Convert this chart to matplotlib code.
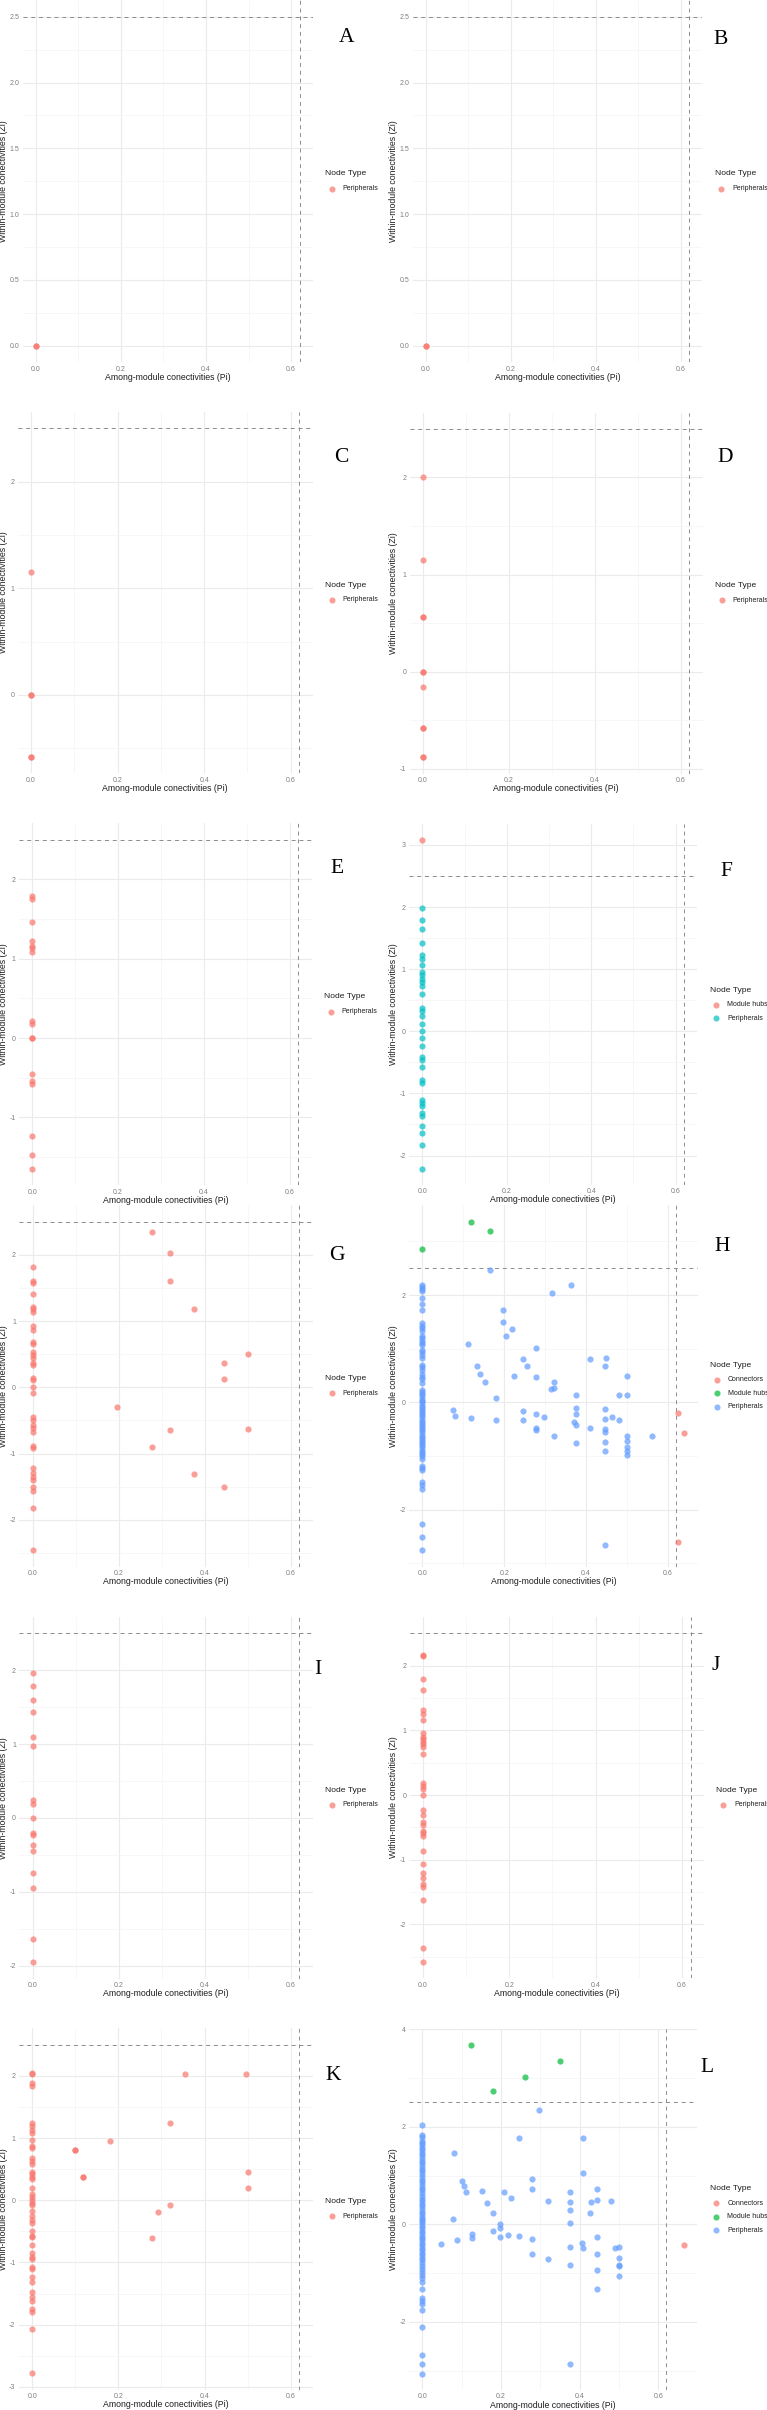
"""
Zi-Pi 模組角色散點圖 (A-L 共 12 個面板)
"""
import numpy as np
import matplotlib
matplotlib.use('Agg')
import matplotlib.pyplot as plt
from matplotlib.lines import Line2D
from matplotlib.ticker import MultipleLocator, FormatStrFormatter

plt.rcParams['font.family'] = ['Liberation Sans', 'DejaVu Sans']

W, HT = 767, 2410
P, HUB, CON = 'Peripherals', 'Module hubs', 'Connectors'
ROLE_ORDER = [CON, HUB, P]
HUE = {1: ['#F8766D'], 2: ['#F8766D', '#00BFC4'],
       3: ['#F8766D', '#00BA38', '#619CFF']}
PI_CUT, ZI_CUT = 0.62, 2.5

# ---- 資料 ----
a_zi = [0.0, 0.0]
b_zi = [0.0, 0.0]
c_zi = [1.15, 0.0, 0.0, -0.58, -0.58]
d_zi = [2.0, 1.15, 0.56, 0.56, 0.0, 0.0, -0.16, -0.58, -0.58, -0.88, -0.88]
e_zi = [1.79, 1.75, 1.46, 1.22, 1.16, 1.14, 1.09, 0.21, 0.18, 0.0, 0.0,
        -0.45, -0.54, -0.58, -1.23, -1.47, -1.65]
f_hub_zi = [3.08]
f_zi = [1.98, 1.79, 1.65, 1.43, 1.23, 1.16, 1.06, 0.96, 0.91, 0.85, 0.80,
        0.73, 0.60, 0.37, 0.32, 0.25, 0.11, 0.0, -0.11, -0.24, -0.41, -0.46,
        -0.57, -0.78, -0.83, -1.10, -1.16, -1.21, -1.32, -1.37, -1.52, -1.63,
        -1.83, -2.21]
g_col_zi = [1.82, 1.60, 1.57, 1.41, 1.22, 1.18, 1.14, 0.93, 0.86, 0.69, 0.66,
            0.54, 0.49, 0.45, 0.36, 0.34, 0.14, 0.11, 0.0, -0.09, -0.45, -0.49,
            -0.57, -0.62, -0.67, -0.89, -0.92, -1.22, -1.30, -1.35, -1.40,
            -1.50, -1.57, -1.83, -2.46]
g_pi = [0.278, 0.32, 0.32, 0.375, 0.5, 0.444, 0.444, 0.197, 0.32, 0.5, 0.278,
        0.375, 0.444]
g_zi = [2.35, 2.03, 1.60, 1.19, 0.50, 0.36, 0.12, -0.29, -0.65, -0.63, -0.90,
        -1.31, -1.51]
h_hub_pi = [0.12, 0.165, 0.0]
h_hub_zi = [3.37, 3.19, 2.86]
h_con_pi = [0.624, 0.64, 0.624]
h_con_zi = [-0.205, -0.57, -2.61]
h_col_zi = [2.19, 2.15, 2.11, 2.07, 1.94, 1.84, 1.72, 1.47, 1.42, 1.38, 1.33,
            1.24, 1.20, 1.15, 1.11, 1.06, 0.98, 0.93, 0.88, 0.83, 0.70, 0.65,
            0.60, 0.53, 0.48, 0.43, 0.36, 0.23, 0.19, 0.15, 0.11, 0.07, 0.03,
            0.0, -0.04, -0.08, -0.12, -0.16, -0.20, -0.24, -0.28, -0.32, -0.36,
            -0.40, -0.44, -0.48, -0.52, -0.56, -0.60, -0.64, -0.68, -0.72,
            -0.76, -0.80, -0.84, -0.88, -0.92, -0.96, -1.00, -1.05, -1.18,
            -1.22, -1.26, -1.48, -1.54, -1.61, -2.26, -2.51, -2.76]
h_pi = [0.165, 0.362, 0.317, 0.198, 0.198, 0.219, 0.204, 0.111, 0.278, 0.245,
        0.409, 0.449, 0.256, 0.133, 0.445, 0.142, 0.225, 0.278, 0.501, 0.154,
        0.321, 0.315, 0.321, 0.375, 0.48, 0.501, 0.18, 0.076, 0.08, 0.12,
        0.18, 0.245, 0.245, 0.278, 0.298, 0.278, 0.278, 0.321, 0.375, 0.375,
        0.371, 0.375, 0.375, 0.409, 0.445, 0.445, 0.464, 0.48, 0.445, 0.445,
        0.445, 0.445, 0.501, 0.501, 0.501, 0.501, 0.501, 0.561, 0.445]
h_zi = [2.46, 2.18, 2.03, 1.73, 1.50, 1.36, 1.24, 1.09, 1.01, 0.80, 0.80,
        0.82, 0.67, 0.67, 0.67, 0.52, 0.49, 0.47, 0.50, 0.38, 0.38, 0.24,
        0.26, 0.13, 0.13, 0.13, 0.09, -0.14, -0.25, -0.30, -0.32, -0.16,
        -0.33, -0.21, -0.27, -0.47, -0.52, -0.62, -0.11, -0.21, -0.37, -0.42,
        -0.76, -0.47, -0.12, -0.31, -0.27, -0.32, -0.49, -0.55, -0.74, -0.90,
        -0.62, -0.72, -0.83, -0.90, -0.98, -0.62, -2.66]
i_zi = [1.96, 1.79, 1.59, 1.44, 1.10, 0.98, 0.24, 0.19, 0.0, -0.20, -0.23,
        -0.36, -0.45, -0.74, -0.95, -1.64, -1.95]
j_zi = [2.16, 2.15, 1.79, 1.62, 1.31, 1.26, 1.16, 0.96, 0.90, 0.86, 0.82,
        0.79, 0.75, 0.64, 0.18, 0.14, 0.10, 0.0, -0.23, -0.31, -0.41, -0.46,
        -0.55, -0.59, -0.64, -0.86, -1.07, -1.21, -1.29, -1.37, -1.43, -1.62,
        -2.37, -2.58]
k_col_zi = [2.05, 2.03, 1.88, 1.83, 1.25, 1.20, 1.13, 1.08, 0.97, 0.87, 0.84,
            0.68, 0.63, 0.58, 0.46, 0.42, 0.38, 0.34, 0.19, 0.10, 0.05, 0.0,
            -0.05, -0.08, -0.18, -0.26, -0.31, -0.36, -0.49, -0.57, -0.59,
            -0.72, -0.85, -0.91, -0.95, -1.07, -1.11, -1.23, -1.32, -1.47,
            -1.56, -1.62, -1.75, -1.79, -2.07, -2.78]
k_pi = [0.355, 0.496, 0.32, 0.18, 0.10, 0.10, 0.118, 0.118, 0.5, 0.5, 0.32,
        0.292, 0.278]
k_zi = [2.03, 2.03, 1.25, 0.95, 0.81, 0.81, 0.38, 0.38, 0.45, 0.19, -0.07,
        -0.19, -0.60]
l_hub_pi = [0.125, 0.351, 0.26, 0.18]
l_hub_zi = [3.67, 3.36, 3.02, 2.74]
l_con_pi = [0.666]
l_con_zi = [-0.42]
l_col_zi = [2.03, 1.83, 1.80, 1.70, 1.66, 1.62, 1.56, 1.52, 1.47, 1.42, 1.37,
            1.30, 1.25, 1.20, 1.14, 1.09, 1.04, 0.98, 0.92, 0.86, 0.80, 0.75,
            0.70, 0.64, 0.58, 0.53, 0.48, 0.42, 0.37, 0.32, 0.26, 0.21, 0.16,
            0.11, 0.06, 0.02, -0.03, -0.08, -0.13, -0.18, -0.23, -0.28, -0.33,
            -0.38, -0.43, -0.48, -0.53, -0.58, -0.63, -0.68, -0.73, -0.80,
            -0.86, -0.92, -0.98, -1.04, -1.10, -1.18, -1.32, -1.51, -1.58,
            -1.64, -1.76, -2.10, -2.67, -2.87, -3.06]
l_pi = [0.297, 0.245, 0.408, 0.08, 0.408, 0.10, 0.105, 0.111, 0.153, 0.207,
        0.278, 0.278, 0.375, 0.445, 0.164, 0.226, 0.319, 0.375, 0.43, 0.445,
        0.48, 0.375, 0.426, 0.18, 0.077, 0.375, 0.197, 0.197, 0.18, 0.127,
        0.127, 0.197, 0.219, 0.245, 0.278, 0.089, 0.047, 0.406, 0.445, 0.375,
        0.408, 0.49, 0.5, 0.278, 0.445, 0.5, 0.319, 0.375, 0.5, 0.5, 0.445,
        0.5, 0.445, 0.375]
l_zi = [2.35, 1.77, 1.77, 1.46, 1.05, 0.89, 0.78, 0.66, 0.68, 0.66, 0.94,
        0.72, 0.67, 0.72, 0.44, 0.54, 0.48, 0.46, 0.45, 0.49, 0.48, 0.30,
        0.23, 0.23, 0.12, 0.03, 0.01, -0.08, -0.14, -0.20, -0.27, -0.26,
        -0.22, -0.24, -0.31, -0.33, -0.40, -0.38, -0.26, -0.47, -0.49, -0.49,
        -0.47, -0.60, -0.60, -0.68, -0.72, -0.83, -0.83, -0.86, -0.94, -1.06,
        -1.32, -2.87]


def column(zi):
    return [0.0] * len(zi), list(zi), [P] * len(zi)


def combine(*groups):
    pi, zi, role = [], [], []
    for gp, gz, gr in groups:
        pi += list(gp)
        zi += list(gz)
        role += [gr] * len(gp) if isinstance(gr, str) else list(gr)
    return np.array(pi), np.array(zi), np.array(role)


# 面板: (字母, 資料, y 主刻度間距, y 格式, 座標框 left/top/right/bottom, 字母位置)
panels = [
    ('A', combine(column(a_zi)), 0.5, '%.1f', (22.8, 0.3, 312.7, 362.2), (347, 37)),
    ('B', combine(column(b_zi)), 0.5, '%.1f', (412.5, 0.3, 702.4, 362.2), (721, 40)),
    ('C', combine(column(c_zi)), 1, '%d', (17.6, 411.8, 312.8, 773.3), (341, 457)),
    ('D', combine(column(d_zi)), 1, '%d', (409.7, 412.5, 702.6, 773.6), (725, 457)),
    ('E', combine(column(e_zi)), 1, '%d', (19.0, 823.3, 311.8, 1185.3), (337, 868)),
    ('F', combine(([0.0], f_hub_zi, HUB), column(f_zi)), 1, '%d',
     (409.2, 823.6, 697.2, 1185.0), (726, 872)),
    ('G', combine(column(g_col_zi), (g_pi, g_zi, P)), 1, '%d',
     (19.4, 1205.4, 312.6, 1566.6), (337, 1256)),
    ('H', combine((h_con_pi, h_con_zi, CON), (h_hub_pi, h_hub_zi, HUB),
                  column(h_col_zi), (h_pi, h_zi, P)), 2, '%d',
     (409.2, 1205.1, 697.5, 1566.9), (722, 1246)),
    ('I', combine(column(i_zi)), 1, '%d', (19.4, 1616.8, 312.6, 1978.5), (318, 1670)),
    ('J', combine(column(j_zi)), 1, '%d', (409.6, 1616.9, 704.0, 1978.3), (716, 1665)),
    ('K', combine(column(k_col_zi), (k_pi, k_zi, P)), 1, '%d',
     (19.0, 2028.4, 312.6, 2389.6), (333, 2076)),
    ('L', combine((l_con_pi, l_con_zi, CON), (l_hub_pi, l_hub_zi, HUB),
                  column(l_col_zi), (l_pi, l_zi, P)), 2, '%d',
     (409.2, 2029.0, 697.3, 2390.0), (707, 2068)),
]


def fx(x):
    return x / W


def fy(y):
    return 1 - y / HT


def expand(lo, hi, mult=0.05):
    span = hi - lo
    return lo - span * mult, hi + span * mult


fig = plt.figure(figsize=(W / 100, HT / 100), dpi=100)

for letter, (pi, zi, role), ystep, yfmt, box, lxy in panels:
    left, top, right, bottom = box
    ax = fig.add_axes([fx(left), fy(bottom), (right - left) / W, (bottom - top) / HT])

    levels = [r for r in ROLE_ORDER if r in set(role)]
    colors = HUE[len(levels)]

    ax.set_xlim(*expand(min(pi.min(), 0), max(pi.max(), PI_CUT)))
    ax.set_ylim(*expand(min(zi.min(), ZI_CUT), max(zi.max(), ZI_CUT)))

    ax.xaxis.set_major_locator(MultipleLocator(0.2))
    ax.xaxis.set_minor_locator(MultipleLocator(0.1))
    ax.xaxis.set_major_formatter(FormatStrFormatter('%.1f'))
    ax.yaxis.set_major_locator(MultipleLocator(ystep))
    ax.yaxis.set_minor_locator(MultipleLocator(ystep / 2))
    ax.yaxis.set_major_formatter(FormatStrFormatter(yfmt))

    ax.set_axisbelow(True)
    ax.grid(which='major', color='#EBEBEB', linewidth=0.8)
    ax.grid(which='minor', color='#F4F4F4', linewidth=0.5)
    for s in ax.spines.values():
        s.set_visible(False)
    ax.tick_params(which='both', length=0, labelsize=5.0, labelcolor='#7F7F7F', pad=2.5)

    ax.axhline(ZI_CUT, color='#8C8C8C', linewidth=0.7, linestyle=(0, (4, 4)), zorder=2)
    ax.axvline(PI_CUT, color='#8C8C8C', linewidth=0.7, linestyle=(0, (4, 4)), zorder=2)

    for lev, col in zip(levels, colors):
        m = role == lev
        ax.scatter(pi[m], zi[m], s=20, color=col, alpha=0.7, linewidths=0, zorder=3)

    # 軸標題
    cx = (left + right) / 2
    cy = (top + bottom) / 2
    fig.text(fx(cx), fy(bottom + 15), 'Among-module conectivities (Pi)',
             ha='center', va='center', fontsize=6.3, color='#1F1F1F')
    ylab_x = 4 if left < 383 else 393.5
    fig.text(fx(ylab_x), fy(cy), 'Within-module conectivities (Zi)', rotation=90,
             ha='center', va='center', fontsize=6.3, color='#1F1F1F')

    # 圖例
    n = len(levels)
    ty = cy - 7.3 - (n - 1) * 6.75
    fig.text(fx(right + 12.5), fy(ty), 'Node Type', ha='left', va='center',
             fontsize=6.1, color='#1F1F1F')
    for i, (lev, col) in enumerate(zip(levels, colors)):
        ey = ty + 14.6 + i * 13.5
        fig.add_artist(Line2D([fx(right + 19)], [fy(ey)], marker='o', markersize=4.4,
                              markeredgewidth=0, color=col, alpha=0.7,
                              transform=fig.transFigure))
        fig.text(fx(right + 30), fy(ey), lev, ha='left', va='center',
                 fontsize=5.0, color='#1F1F1F')

    fig.text(fx(lxy[0]), fy(lxy[1]), letter, ha='center', va='center',
             fontsize=15.5, family=['Liberation Serif', 'DejaVu Serif'], color='black')

fig.savefig('out.png', dpi=100)
